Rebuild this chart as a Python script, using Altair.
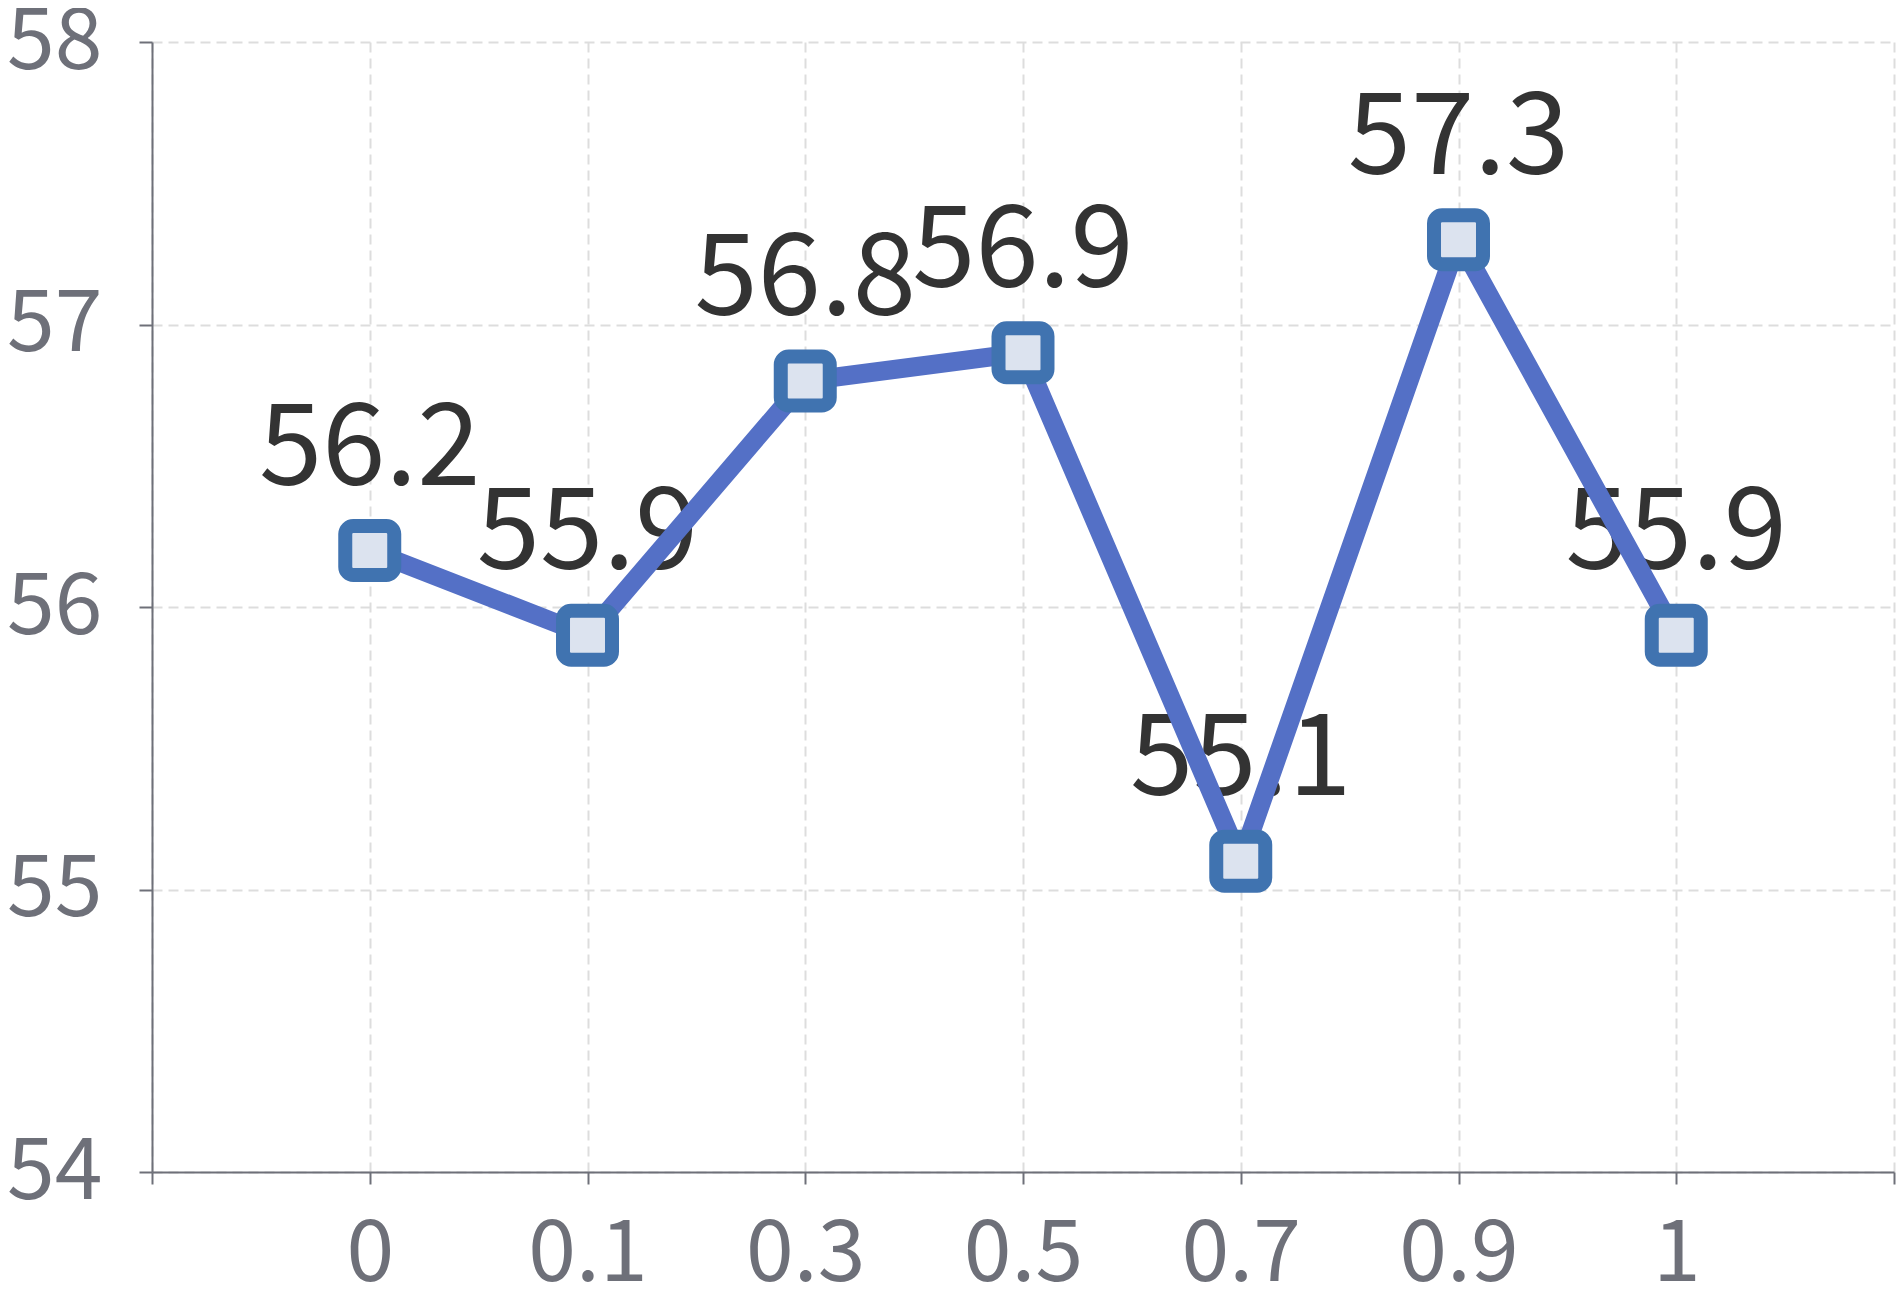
import altair as alt
import pandas as pd

categories = ["0", "0.1", "0.3", "0.5", "0.7", "0.9", "1"]
values = [56.2, 55.9, 56.8, 56.9, 55.1, 57.3, 55.9]
y_ticks = [54, 55, 56, 57, 58]

df = pd.DataFrame({
    "idx": list(range(len(categories))),
    "cat": categories,
    "value": values,
    "label": [f"{v:.1f}" for v in values],
})

FONT = "Noto Sans CJK SC"
AXIS_COLOR = "#6e7079"
GRID_COLOR = "#dddddd"

label_expr = "datum.value >= 0 && datum.value <= 6 ? " + str(categories) + "[round(datum.value)] : ''"

x = alt.X(
    "idx:Q",
    scale=alt.Scale(domain=[-1, len(categories)], nice=False, zero=False),
    axis=alt.Axis(
        values=list(range(-1, len(categories) + 1)),
        labelExpr=label_expr,
        title=None,
        grid=True,
        gridColor=GRID_COLOR,
        gridDash=[10, 6],
        gridWidth=2,
        domainColor=AXIS_COLOR,
        domainWidth=2,
        tickColor=AXIS_COLOR,
        tickWidth=2,
        tickSize=12,
        labelColor=AXIS_COLOR,
        labelFont=FONT,
        labelFontSize=86,
        labelPadding=28,
        labelFlush=False,
        labelOverlap=False,
    ),
)
y = alt.Y(
    "value:Q",
    scale=alt.Scale(domain=[54, 58], nice=False, zero=False),
    axis=alt.Axis(
        values=y_ticks,
        title=None,
        grid=True,
        gridColor=GRID_COLOR,
        gridDash=[10, 6],
        gridWidth=2,
        domainColor=AXIS_COLOR,
        domainWidth=2,
        tickColor=AXIS_COLOR,
        tickWidth=2,
        tickSize=13,
        labelColor=AXIS_COLOR,
        labelFont=FONT,
        labelFontSize=86,
        labelPadding=37,
        labelFlush=False,
        labelOverlap=False,
    ),
)

base = alt.Chart(df).encode(x=x, y=y)

text = base.mark_text(
    font=FONT, fontSize=114, color="#333333", baseline="alphabetic", dy=-66
).encode(text="label:N")

line = base.mark_line(color="#5470c6", strokeWidth=19, strokeJoin="round")

rounded_square = (
    "M -0.67 -1 L 0.67 -1 A 0.33 0.33 0 0 1 1 -0.67 L 1 0.67 "
    "A 0.33 0.33 0 0 1 0.67 1 L -0.67 1 A 0.33 0.33 0 0 1 -1 0.67 "
    "L -1 -0.67 A 0.33 0.33 0 0 1 -0.67 -1 Z"
)
points = base.mark_point(
    shape=rounded_square,
    size=2400,
    filled=True,
    fill="#dce3ef",
    stroke="#4073b0",
    strokeWidth=14,
    opacity=1,
)

chart = (
    alt.layer(text, line, points)
    .properties(
        width=1742,
        height=1130,
        autosize=alt.AutoSizeParams(type="none"),
        padding={"left": 144, "top": 34, "right": 2, "bottom": 135},
    )
    .configure_view(stroke=None)
)

chart.save("out.html", embed_options={"renderer": "svg", "actions": False})
